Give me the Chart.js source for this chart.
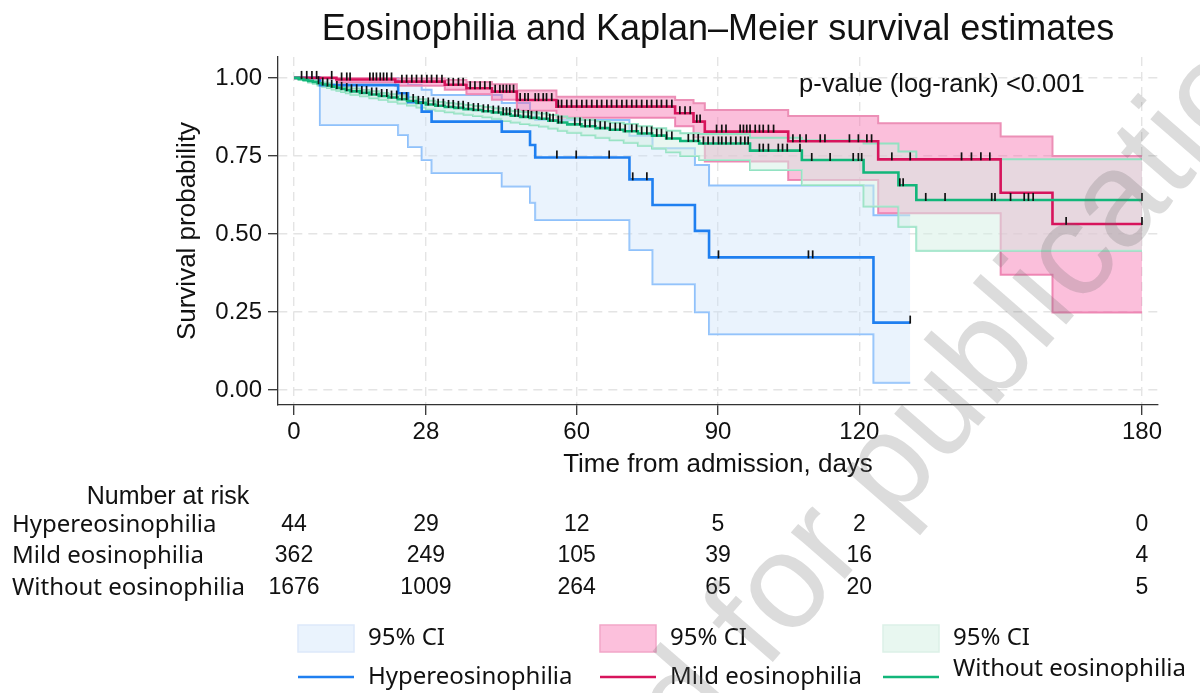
<!DOCTYPE html>
<html>
<head>
<meta charset="utf-8">
<title>Eosinophilia and Kaplan–Meier survival estimates</title>
<script src="https://cdn.jsdelivr.net/npm/chart.js@4.4.1/dist/chart.umd.min.js"></script>
<style>
  html, body { margin: 0; padding: 0; background: #fff; }
  #wrap { width: 1200px; height: 693px; }
</style>
</head>
<body>
<div id="wrap"><canvas id="kmChart" width="1200" height="693"></canvas></div>
<script>
// axis ticks
const xTicks = [0, 28, 60, 90, 120, 180];
const yTicks = [0, 0.25, 0.5, 0.75, 1];

const groupNames = ['Hypereosinophilia', 'Mild eosinophilia', 'Without eosinophilia'];

// Hypereosinophilia: event times (days), KM estimate and 95% CI
const hyperTime  = [0, 5.5, 22.1, 24.2, 27.1, 29.2, 44.1, 50.1, 51.2, 71.2, 76.1, 85.1, 88.1, 123.0, 130.8];
const hyperSurv  = [1, 0.977, 0.951, 0.922, 0.892, 0.860, 0.828, 0.785, 0.745, 0.675, 0.593, 0.510, 0.425, 0.216, 0.216];
const hyperUpper = [1, 1, 0.988, 0.977, 0.962, 0.945, 0.920, 0.890, 0.865, 0.815, 0.775, 0.721, 0.655, 0.560, 0.560];
const hyperLower = [1, 0.849, 0.817, 0.779, 0.737, 0.695, 0.652, 0.600, 0.545, 0.449, 0.339, 0.249, 0.179, 0.023, 0.023];
const hyperCensor = [55.8, 59.9, 66.9, 71.9, 74.9, 90.1, 109.2, 110.1, 130.8];

// Mild eosinophilia
const mildTime  = [0, 9.0, 21.5, 32.0, 36.6, 42.0, 47.3, 55.7, 80.9, 84.8, 87.2, 104.9, 124.0, 150.0, 161.0, 180];
const mildSurv  = [1, 0.995, 0.988, 0.978, 0.967, 0.956, 0.929, 0.908, 0.887, 0.860, 0.828, 0.797, 0.739, 0.632, 0.532, 0.532];
const mildUpper = [1, 1, 0.998, 0.993, 0.987, 0.980, 0.960, 0.940, 0.929, 0.919, 0.897, 0.878, 0.855, 0.812, 0.750, 0.750];
const mildLower = [1, 0.985, 0.975, 0.962, 0.948, 0.930, 0.895, 0.872, 0.845, 0.810, 0.732, 0.673, 0.566, 0.369, 0.248, 0.248];
const mildCensor = [1.6, 2.7, 3.8, 4.8, 8.0, 10.1, 11.2, 11.9, 16.1, 16.8, 17.5, 18.3, 19.0, 19.7, 20.7,
  22.9, 23.9, 25.0, 26.0, 27.1, 28.2, 29.2, 30.3, 31.4, 32.8, 33.8, 34.9, 35.9, 37.4, 38.4, 39.5, 40.5,
  41.6, 42.7, 43.7, 44.4, 45.1, 45.8, 46.6, 48.0, 49.0, 49.7, 51.2, 51.9, 52.9, 53.6, 54.7, 56.1, 56.8,
  57.9, 58.9, 60.0, 61.1, 62.1, 63.2, 64.3, 65.3, 66.4, 67.4, 68.5, 69.6, 70.6, 71.7, 72.7, 73.8, 74.9,
  75.9, 77.0, 78.0, 79.1, 80.2, 81.9, 83.0, 84.1, 85.5, 86.2, 89.7, 90.8, 91.7, 94.7, 95.4, 96.1, 96.8,
  97.9, 98.8, 99.6, 100.7, 101.8, 105.9, 107.4, 108.7, 111.7, 112.7, 117.9, 119.8, 121.6, 122.6, 126.9,
  130.8, 141.7, 143.8, 145.8, 147.7, 163.9, 180];

// Without eosinophilia
const withoutTime  = [0, 1, 2, 3, 4, 5, 6, 7, 8, 9, 10, 11, 12, 14, 16, 18, 20, 22, 24, 26, 28, 30, 32, 34, 36,
  38, 40, 42, 44, 46, 48, 50, 52, 54, 56, 58, 61, 64, 67, 70, 73, 76, 79, 82, 86, 96.8, 107.8, 120.9, 128.3, 132.1, 180];
const withoutSurv  = [1, 0.997, 0.994, 0.990, 0.987, 0.983, 0.979, 0.976, 0.972, 0.968, 0.965, 0.961, 0.957,
  0.952, 0.947, 0.942, 0.937, 0.932, 0.926, 0.920, 0.915, 0.911, 0.907, 0.904, 0.900, 0.897, 0.893, 0.889,
  0.884, 0.879, 0.875, 0.872, 0.869, 0.863, 0.857, 0.851, 0.845, 0.839, 0.834, 0.829, 0.822, 0.815, 0.806,
  0.798, 0.790, 0.767, 0.737, 0.697, 0.656, 0.609, 0.609];
const withoutUpper = [1, 0.999, 0.997, 0.994, 0.992, 0.989, 0.985, 0.983, 0.979, 0.976, 0.973, 0.970, 0.966,
  0.961, 0.957, 0.952, 0.948, 0.943, 0.938, 0.932, 0.927, 0.923, 0.920, 0.917, 0.913, 0.910, 0.907, 0.903,
  0.899, 0.894, 0.891, 0.889, 0.886, 0.881, 0.876, 0.871, 0.866, 0.861, 0.856, 0.852, 0.845, 0.839, 0.831,
  0.823, 0.820, 0.808, 0.800, 0.790, 0.764, 0.739, 0.739];
const withoutLower = [1, 0.994, 0.990, 0.985, 0.981, 0.976, 0.972, 0.968, 0.963, 0.959, 0.955, 0.951, 0.946,
  0.941, 0.935, 0.930, 0.924, 0.918, 0.912, 0.905, 0.899, 0.895, 0.890, 0.886, 0.882, 0.878, 0.874, 0.869,
  0.862, 0.857, 0.852, 0.848, 0.844, 0.838, 0.831, 0.824, 0.816, 0.808, 0.800, 0.792, 0.783, 0.774, 0.762,
  0.750, 0.737, 0.705, 0.657, 0.588, 0.523, 0.446, 0.446];
const withoutCensor = [5.2, 6.1, 7.1, 8.0, 9.1, 10.1, 11.2, 12.2, 13.3, 14.4, 15.4, 16.5, 17.5, 18.6, 19.7,
  20.7, 21.8, 22.9, 23.9, 25.3, 26.4, 27.4, 28.5, 29.6, 30.6, 31.7, 32.8, 33.8, 34.9, 35.9, 37.0, 38.1,
  39.1, 40.2, 41.2, 42.3, 43.4, 44.4, 45.1, 45.8, 46.9, 47.6, 48.7, 49.7, 50.4, 51.5, 52.6, 53.6, 54.3,
  55.0, 56.1, 56.8, 59.6, 60.7, 61.8, 62.8, 63.9, 65.0, 66.0, 67.1, 68.2, 69.2, 70.3, 71.7, 72.7, 73.8,
  74.9, 75.9, 77.0, 78.0, 79.1, 80.2, 83.7, 84.8, 85.8, 86.9, 87.9, 89.0, 90.1, 90.8, 91.7, 92.7, 93.8,
  94.8, 95.7, 96.4, 98.8, 99.6, 100.7, 102.8, 103.7, 104.7, 107.4, 109.9, 113.8, 118.7, 119.8, 120.5,
  128.6, 129.3, 134.1, 138.2, 148.1, 148.8, 152.1, 155.0, 155.9, 156.9, 180];

// number at risk at each x tick
const hyperRisk   = [44, 29, 12, 5, 2, 0];
const mildRisk    = [362, 249, 105, 39, 16, 4];
const withoutRisk = [1676, 1009, 264, 65, 20, 5];

const fontMain = "'Liberation Sans', Arial, Helvetica, sans-serif";
const fontSoft = "'Noto Sans', 'Open Sans', sans-serif";

const blue = '#1f7ff0', blueCi = '#8fc1fb', blueFill = 'rgba(200, 224, 250, 0.38)';
const red = '#d7145c', redCi = '#ec8fb6', redFill = 'rgba(246, 110, 172, 0.44)';
const green = '#12b67a', greenCi = '#92e2c2', greenFill = 'rgba(212, 240, 228, 0.5)';

function toPoints(time, vals) {
    return time.map((t, i) => ({ x: t, y: vals[i] }));
}

// value of a step curve at time t
function survAt(time, vals, t) {
    let v = vals[0];
    for (let i = 0; i < time.length; i++) {
        if (time[i] <= t) v = vals[i];
    }
    return v;
}

function kmLine(label, time, vals, color) {
    return { label: label, data: toPoints(time, vals), stepped: true, borderColor: color,
             borderWidth: 2.6, pointRadius: 0, fill: false };
}

function ciLine(label, time, vals, color, fill, fillColor) {
    return { label: label, data: toPoints(time, vals), stepped: true, borderColor: color,
             borderWidth: 2, pointRadius: 0, fill: fill, backgroundColor: fillColor || 'transparent' };
}

const extrasPlugin = {
    id: 'kmExtras',
    afterDatasetsDraw(chart) {
        // censoring marks
        const ctx = chart.ctx;
        const xs = chart.scales.x, ys = chart.scales.y;
        const groups = [
            [hyperTime, hyperSurv, hyperCensor],
            [mildTime, mildSurv, mildCensor],
            [withoutTime, withoutSurv, withoutCensor]
        ];
        ctx.save();
        ctx.strokeStyle = '#111';
        ctx.lineWidth = 1.7;
        groups.forEach(g => {
            g[2].forEach(t => {
                const px = xs.getPixelForValue(t);
                const py = ys.getPixelForValue(survAt(g[0], g[1], t));
                ctx.beginPath();
                ctx.moveTo(px, py + 1);
                ctx.lineTo(px, py - 7);
                ctx.stroke();
            });
        });
        ctx.restore();
    },
    afterDraw(chart) {
        const ctx = chart.ctx;
        const area = chart.chartArea;
        const xs = chart.scales.x, ys = chart.scales.y;
        ctx.save();
        ctx.fillStyle = '#111';
        ctx.textBaseline = 'middle';

        // title
        ctx.textAlign = 'center';
        ctx.font = '36px ' + fontMain;
        ctx.fillText('Eosinophilia and Kaplan\u2013Meier survival estimates', (area.left + area.right) / 2, 30);

        // log-rank p-value
        ctx.textAlign = 'left';
        ctx.font = '25.5px ' + fontMain;
        ctx.fillText('p-value (log-rank) <0.001', xs.getPixelForValue(107.2), ys.getPixelForValue(0.977));

        // number at risk table
        ctx.textAlign = 'center';
        ctx.font = '25px ' + fontMain;
        ctx.fillText('Number at risk', 168, 497);
        const rows = [hyperRisk, mildRisk, withoutRisk];
        const rowY = [525, 556, 588];
        rows.forEach((r, i) => {
            ctx.textAlign = 'left';
            ctx.font = '24px ' + fontSoft;
            ctx.fillText(groupNames[i], 12, rowY[i]);
            ctx.textAlign = 'center';
            ctx.font = '23px ' + fontMain;
            r.forEach((n, j) => {
                ctx.fillText(String(n), xs.getPixelForValue(xTicks[j]), rowY[i]);
            });
        });

        // legend: CI boxes on top row, curves below
        const cols = [298, 600, 883];
        const boxFill = ['#eaf3fd', '#fcc0dc', '#e8f7f0'];
        const boxEdge = ['#dde9fa', '#f2a6c8', '#dcf1e7'];
        const lineCols = [blue, red, green];
        ctx.font = '24px ' + fontSoft;
        ctx.textAlign = 'left';
        cols.forEach((cx, i) => {
            ctx.fillStyle = boxFill[i];
            ctx.fillRect(cx, 625, 56, 27);
            ctx.strokeStyle = boxEdge[i];
            ctx.lineWidth = 1.5;
            ctx.strokeRect(cx, 625, 56, 27);
            ctx.fillStyle = '#111';
            ctx.fillText('95% CI', cx + 70, 638);

            ctx.strokeStyle = lineCols[i];
            ctx.lineWidth = 2.5;
            ctx.beginPath();
            ctx.moveTo(cx, 677);
            ctx.lineTo(cx + 56, 677);
            ctx.stroke();
            ctx.fillText(groupNames[i], cx + 70, i === 2 ? 669 : 677);
        });

        // watermark
        ctx.font = '135px ' + fontMain;
        ctx.fillStyle = 'rgba(110, 110, 110, 0.24)';
        ctx.textAlign = 'left';
        ctx.textBaseline = 'alphabetic';
        const wm = 'Accepted for publication';
        const lead = ctx.measureText('Accepte').width;
        ctx.translate(691, 756);
        ctx.rotate(-0.855);
        ctx.fillText(wm, -lead, 0);
        ctx.restore();
    }
};

const ctx = document.getElementById('kmChart').getContext('2d');
const myChart = new Chart(ctx, {
    type: 'line',
    data: {
        datasets: [
            kmLine(groupNames[2], withoutTime, withoutSurv, green),
            kmLine(groupNames[1], mildTime, mildSurv, red),
            kmLine(groupNames[0], hyperTime, hyperSurv, blue),
            ciLine('95% CI', withoutTime, withoutUpper, greenCi, '+1', greenFill),
            ciLine('95% CI lower', withoutTime, withoutLower, greenCi, false),
            ciLine('95% CI', mildTime, mildUpper, redCi, '+1', redFill),
            ciLine('95% CI lower', mildTime, mildLower, redCi, false),
            ciLine('95% CI', hyperTime, hyperUpper, blueCi, '+1', blueFill),
            ciLine('95% CI lower', hyperTime, hyperLower, blueCi, false)
        ]
    },
    options: {
        responsive: false,
        animation: false,
        devicePixelRatio: 1,
        layout: { padding: { left: 172, top: 57, right: 42, bottom: 213 } },
        plugins: {
            legend: { display: false },
            tooltip: { enabled: false },
            title: { display: false }
        },
        scales: {
            x: {
                type: 'linear',
                min: -3.4,
                max: 183.4,
                afterBuildTicks: (axis) => { axis.ticks = xTicks.map(v => ({ value: v })); },
                afterFit: (axis) => { axis.height = 75; },
                ticks: { autoSkip: false, maxRotation: 0, color: '#111', padding: 3,
                         font: { family: fontMain, size: 24 } },
                grid: { color: '#e4e4e4', lineWidth: 1.4, tickColor: '#333', tickLength: 10, tickWidth: 1.3 },
                border: { display: true, color: '#333', width: 1.3, dash: [9, 6] },
                title: { display: true, text: 'Time from admission, days', color: '#111', padding: 0,
                         font: { family: fontMain, size: 26 } }
            },
            y: {
                min: -0.048,
                max: 1.067,
                afterBuildTicks: (axis) => { axis.ticks = yTicks.map(v => ({ value: v })); },
                afterFit: (axis) => { axis.width = 106; },
                ticks: { color: '#111', padding: 6, font: { family: fontMain, size: 24 },
                         callback: (v) => Number(v).toFixed(2) },
                grid: { color: '#e4e4e4', lineWidth: 1.4, tickColor: '#333', tickLength: 10, tickWidth: 1.3 },
                border: { display: true, color: '#333', width: 1.3, dash: [9, 6] },
                title: { display: true, text: 'Survival probability', color: '#111', padding: 0,
                         font: { family: fontMain, size: 26 } }
            }
        }
    },
    plugins: [extrasPlugin]
});
</script>
</body>
</html>
